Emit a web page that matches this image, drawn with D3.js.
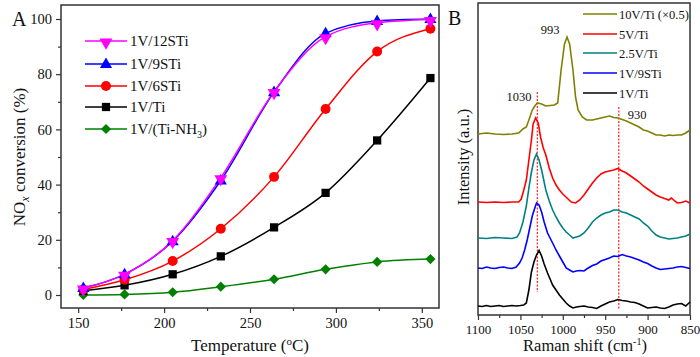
<!DOCTYPE html>
<html><head><meta charset="utf-8">
<script src="https://cdn.jsdelivr.net/npm/d3@7"></script>
<style>
body{margin:0;background:#fff;}
</style></head>
<body><svg id="c" width="700" height="357"></svg>
<script>
// ---------- Panel A data ----------
const temps = [153, 177, 205, 233, 264, 294, 324, 355];
const seriesNames = ["1V/12STi", "1V/9STi", "1V/6STi", "1V/Ti", "1V/(Ti-NH3)"];
const conv_12STi = [2.5, 7.5, 19.7, 42.5, 73.7, 93.6, 98.6, 99.8];
const conv_9STi  = [2.5, 7.5, 19.5, 41.5, 73.5, 94.8, 99.3, 100];
const conv_6STi  = [2.0, 5.5, 12.3, 24.0, 42.8, 67.4, 88.2, 96.5];
const conv_Ti    = [1.5, 3.5, 7.5, 14.0, 24.5, 37.0, 56.0, 78.6];
const conv_TiNH3 = [0.0, 0.2, 1.0, 3.0, 5.7, 9.3, 12.0, 13.0];
const xTicksA = [150, 200, 250, 300, 350];
const yTicksA = [0, 20, 40, 60, 80, 100];

// ---------- Panel B data (Raman shift cm-1, intensity a.u.) ----------
const spec10V = [[1100,181],[1090,182],[1080,181],[1070,180.5],[1060,181],[1052,182],[1047,186],[1043,188],[1040,195],[1036,205],[1033,209],[1030,212],[1025,211],[1020,209],[1015,209.5],[1010,210],[1006,212],[1002,245],[998,271],[995,278],[992,271],[988,245],[985,218],[982,205],[977,198],[972,195],[965,195],[960,196],[955,197],[950,198],[945,199],[940,197.5],[935,197],[930,195.5],[925,194],[920,192],[915,190],[910,188],[905,185],[900,184],[895,182],[890,180],[885,180],[880,179],[875,180],[870,179.5],[865,180],[860,180],[855,182],[850,185]];
const spec5V = [[1100,113],[1090,112.5],[1080,113],[1070,112.5],[1060,113],[1052,113],[1049,116],[1046,125],[1043,135],[1040,155],[1037,175],[1035,191],[1032,197],[1029,192],[1026,177],[1023,167],[1020,160],[1016,147],[1012,137],[1008,130],[1004,125],[1000,121],[995,117],[990,113],[985,112],[980,115],[975,120],[970,126],[965,132],[960,137],[955,141],[950,143],[945,144],[940,145],[935,146.5],[930,144],[925,142],[920,139],[915,136],[910,133],[905,129],[900,126],[895,123],[890,120],[885,118],[880,116.5],[875,115],[872,117],[868,114],[865,112],[860,112.5],[855,114],[850,112]];
const spec25V = [[1100,77],[1090,76.5],[1080,77.5],[1070,77],[1060,76.5],[1054,78],[1051,82],[1047,93],[1043,109],[1040,127],[1037,143],[1034,155],[1031,161],[1028,155],[1025,145],[1020,125],[1016,114],[1012,105],[1008,98],[1004,92],[1000,87],[996,83],[992,80],[988,77],[984,78],[980,79],[975,82],[970,87],[965,93],[960,97],[955,100],[950,102],[945,103],[940,105],[935,105],[930,103],[925,102],[920,100],[915,98],[910,96],[905,92],[900,89],[895,84],[890,80],[885,78],[880,77],[875,76],[870,76.5],[865,77],[860,78],[855,79],[850,81]];
const spec1V9S = [[1100,47],[1095,46.5],[1090,48],[1085,47],[1080,46.5],[1075,47.5],[1070,48],[1065,47],[1060,46.5],[1055,48],[1051,52],[1048,57],[1045,65],[1042,75],[1039,87],[1036,99],[1033,107],[1031,112],[1028,110],[1025,103],[1022,93],[1018,82],[1015,77],[1012,72],[1008,65],[1004,59],[1000,53],[996,47],[992,45],[988,43],[984,44],[980,44.5],[975,44],[970,47],[965,49.5],[960,51],[955,54],[950,55.5],[945,57],[940,59],[935,58.5],[930,60.5],[925,59],[920,58],[915,56.5],[910,55],[905,53],[900,51.5],[895,49],[890,47],[885,45.5],[880,46],[875,46.5],[870,47],[865,48],[860,48.5],[855,47.5],[850,46.5]];
const spec1V = [[1100,9],[1095,8.5],[1090,9.5],[1085,8.5],[1080,9],[1075,9.5],[1070,8.5],[1065,9],[1060,9.5],[1055,9],[1050,9.5],[1046,10],[1043,12],[1040,25],[1037,43],[1034,53],[1031,60],[1028,64.5],[1025,59],[1022,51],[1018,42],[1015,36],[1012,30],[1008,25],[1004,20],[1000,16],[996,12],[992,9],[988,7],[984,8],[980,8.5],[975,9],[970,8],[965,7.5],[960,6.5],[955,9],[950,11],[945,13],[940,14],[935,15.5],[930,14.5],[925,14],[920,13],[915,12.5],[910,11],[905,9],[900,7],[895,7.5],[890,8],[885,7],[880,6.5],[875,8],[870,10],[865,11],[860,11.5],[855,9],[850,13]];
const specNames = ["10V/Ti (×0.5)", "5V/Ti", "2.5V/Ti", "1V/9STi", "1V/Ti"];
const xTicksB = [1100, 1050, 1000, 950, 900, 850];
const peakLines = [1030, 934];

const FONT = "Liberation Serif";
const svg = d3.select("#c");
function txt(g, x, y, size, s){
  return g.append("text").attr("x",x).attr("y",y).attr("font-size",size)
    .attr("font-family",FONT).attr("fill","#111").text(s || null);
}

// ================= Panel A =================
const A = {l:61, t:5, r:439, b:308};
const xA = d3.scaleLinear().domain([140, 360]).range([A.l, A.r]);
const yA = d3.scaleLinear().domain([0, 100]).range([295, 19]);
const yAfull = d3.scaleLinear().domain([yA.invert(A.b), yA.invert(A.t)]).range([A.b, A.t]);

const gA = svg.append("g");
gA.append("rect").attr("x",A.l).attr("y",A.t).attr("width",A.r-A.l).attr("height",A.b-A.t)
  .attr("fill","none").attr("stroke","#333").attr("stroke-width",1.5);

const axXA = gA.append("g").attr("transform",`translate(0,${A.b})`)
  .call(d3.axisBottom(xA).tickValues(xTicksA).tickSize(5).tickPadding(5).tickFormat(d3.format("d")));
const axXAm = gA.append("g").attr("transform",`translate(0,${A.b})`)
  .call(d3.axisBottom(xA).tickValues([175,225,275,325]).tickSize(3).tickFormat(""));
const axYA = gA.append("g").attr("transform",`translate(${A.l},0)`)
  .call(d3.axisLeft(yAfull).tickValues(yTicksA).tickSize(5).tickPadding(4).tickFormat(d3.format("d")));
const axYAm = gA.append("g").attr("transform",`translate(${A.l},0)`)
  .call(d3.axisLeft(yAfull).tickValues([10,30,50,70,90]).tickSize(3).tickFormat(""));
[axXA,axXAm,axYA,axYAm].forEach(g=>{
  g.attr("font-family", FONT);
  g.select(".domain").remove();
  g.selectAll("line").attr("stroke","#333").attr("stroke-width",1.2);
  g.selectAll("text").attr("font-size",14.5).attr("font-family",FONT).attr("fill","#111");
});

const colorsA = ["#ff00ff","#0000ff","#ff0000","#000000","#008000"];
const symA = [d3.symbolTriangle, d3.symbolTriangle, d3.symbolCircle, d3.symbolSquare, d3.symbolSquare];
const sizeA = [72, 64, 78, 68, 52];
const rotA = [180, 0, 0, 0, 45];
const dyA = [1.2, 0.5, 0, 0, 0];
const dataA = [conv_12STi, conv_9STi, conv_6STi, conv_Ti, conv_TiNH3];
const lineA = d3.line().x(d=>xA(d[0])).y(d=>yA(d[1])).curve(d3.curveMonotoneX);

[4,3,2,1,0].forEach(i=>{
  const pts = temps.map((t,j)=>[t, dataA[i][j]]);
  gA.append("path").attr("d", lineA(pts)).attr("fill","none").attr("stroke",colorsA[i]).attr("stroke-width",1.5);
});
[4,3,2,1,0].forEach(i=>{
  const pts = temps.map((t,j)=>[t, dataA[i][j]]);
  gA.selectAll(null).data(pts).enter().append("path")
    .attr("d", d3.symbol().type(symA[i]).size(sizeA[i]))
    .attr("transform", d=>`translate(${xA(d[0])},${yA(d[1]) + dyA[i]}) rotate(${rotA[i]})`)
    .attr("fill",colorsA[i]);
});

// Legend A
const legAy = [41, 64, 86, 107, 129];
seriesNames.forEach((n,i)=>{
  const y = legAy[i];
  gA.append("line").attr("x1",85).attr("x2",127).attr("y1",y).attr("y2",y).attr("stroke",colorsA[i]).attr("stroke-width",1.5);
  gA.append("path").attr("d", d3.symbol().type(symA[i]).size(sizeA[i]))
    .attr("transform",`translate(106,${y + dyA[i]}) rotate(${rotA[i]})`).attr("fill",colorsA[i]);
  const t = txt(gA, 130, y+5, 15);
  if (i===4) {
    t.append("tspan").text("1V/(Ti-NH");
    t.append("tspan").text("3").attr("font-size",10).attr("dy",4);
    t.append("tspan").text(")").attr("dy",-4);
  } else t.text(n);
});

txt(gA, 12, 26, 20, "A");
const xtA = txt(gA, 250, 351, 17).attr("text-anchor","middle");
xtA.append("tspan").text("Temperature (");
xtA.append("tspan").text("o").attr("font-size",11).attr("dy",-6);
xtA.append("tspan").text("C)").attr("dy",6);
const ytA = txt(gA, 0, 0, 17).attr("transform","translate(25,157) rotate(-90)").attr("text-anchor","middle");
ytA.append("tspan").text("NO");
ytA.append("tspan").text("x").attr("font-size",12).attr("font-style","italic").attr("dy",4);
ytA.append("tspan").text(" conversion (%)").attr("dy",-4);

// ================= Panel B =================
const B = {l:478, t:3, r:690, b:315};
const xB = d3.scaleLinear().domain([1100, 850]).range([B.l, B.r]);
const yB = d3.scaleLinear().domain([0, 312]).range([B.b, B.t]);
const gB = svg.append("g");
gB.append("rect").attr("x",B.l).attr("y",B.t).attr("width",B.r-B.l).attr("height",B.b-B.t)
  .attr("fill","none").attr("stroke","#333").attr("stroke-width",1.5);
const axXB = gB.append("g").attr("transform",`translate(0,${B.b})`)
  .call(d3.axisBottom(xB).tickValues(xTicksB).tickSize(5).tickPadding(5).tickFormat(d3.format("d")));
const axXBm = gB.append("g").attr("transform",`translate(0,${B.b})`)
  .call(d3.axisBottom(xB).tickValues([1075,1025,975,925,875]).tickSize(3).tickFormat(""));
[axXB,axXBm].forEach(g=>{
  g.attr("font-family", FONT);
  g.select(".domain").remove();
  g.selectAll("line").attr("stroke","#333").attr("stroke-width",1.2);
  g.selectAll("text").attr("font-size",13).attr("font-family",FONT).attr("fill","#111");
});

gB.append("line").attr("x1",xB(peakLines[0])).attr("x2",xB(peakLines[0])).attr("y1",92).attr("y2",292)
  .attr("stroke","#ff3030").attr("stroke-width",1.3).attr("stroke-dasharray","2,1.5");
gB.append("line").attr("x1",xB(peakLines[1])).attr("x2",xB(peakLines[1])).attr("y1",107).attr("y2",310)
  .attr("stroke","#ff3030").attr("stroke-width",1.3).attr("stroke-dasharray","2,1.5");

const colorsB = ["#808000","#ff0000","#008080","#0000ff","#000000"];
const dataB = [spec10V, spec5V, spec25V, spec1V9S, spec1V];
const lineB = d3.line().x(d=>xB(d[0])).y(d=>yB(d[1])).curve(d3.curveLinear);
dataB.forEach((s,i)=>{
  gB.append("path").attr("d", lineB(s)).attr("fill","none").attr("stroke",colorsB[i]).attr("stroke-width",1.6);
});

txt(gB, 550, 34, 12.5, "993").attr("text-anchor","middle");
txt(gB, 519, 101, 12.5, "1030").attr("text-anchor","middle");
txt(gB, 637, 119, 12.5, "930").attr("text-anchor","middle");

const legBy = [14, 34, 53, 73, 93];
specNames.forEach((n,i)=>{
  gB.append("line").attr("x1",583).attr("x2",617).attr("y1",legBy[i]).attr("y2",legBy[i]).attr("stroke",colorsB[i]).attr("stroke-width",1.6);
  txt(gB, 619, legBy[i]+4.5, 12.5, n);
});

txt(gB, 448, 25, 20, "B");
const xtB = txt(gB, 585, 351, 16.5).attr("text-anchor","middle");
xtB.append("tspan").text("Raman shift (cm");
xtB.append("tspan").text("-1").attr("font-size",10).attr("dy",-6);
xtB.append("tspan").text(")").attr("dy",6);
txt(gB, 0, 0, 16.5, "Intensity (a.u.)").attr("transform","translate(469,157) rotate(-90)").attr("text-anchor","middle");
</script></body></html>
